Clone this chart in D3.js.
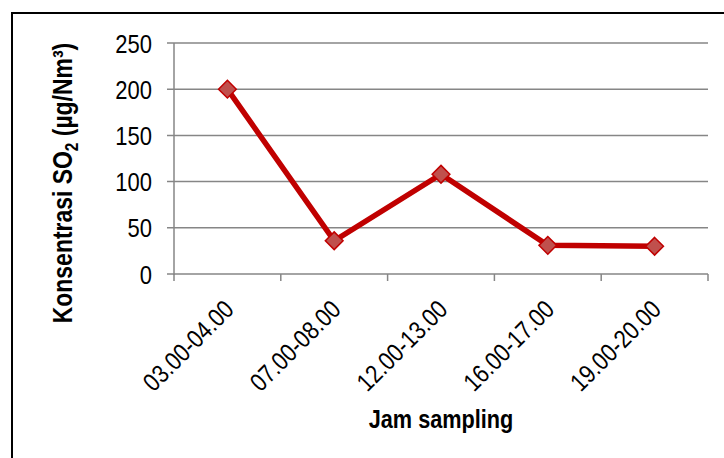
<!DOCTYPE html>
<html><head><meta charset="utf-8">
<script src="https://cdn.jsdelivr.net/npm/d3@7"></script>
<style>body{margin:0;background:#fff}svg{display:block}</style>
</head><body>
<script>
const categories = ["03.00-04.00","07.00-08.00","12.00-13.00","16.00-17.00","19.00-20.00"];
const values = [200, 36, 108, 31, 30];
const yTicks = [0, 50, 100, 150, 200, 250];

const W = 724, H = 458;
const svg = d3.select("body").append("svg").attr("width", W).attr("height", H);
svg.append("rect").attr("x", 12).attr("y", 13).attr("width", 740).attr("height", 480)
  .attr("fill", "#fff").attr("stroke", "#000").attr("stroke-width", 2);

const L = 174, R = 708, T = 43, B = 274;
const x = d3.scaleBand().domain(categories).range([L, R]);
const y = d3.scaleLinear().domain([0, 250]).range([B, T]);
const font = "'Liberation Sans', Arial, sans-serif";

// gridlines
svg.append("g").selectAll("line").data(yTicks).join("line")
  .attr("x1", L - 7).attr("x2", R).attr("y1", d => y(d)).attr("y2", d => y(d))
  .attr("stroke", "#868686").attr("stroke-width", 1.5);

// y axis line
svg.append("line").attr("x1", L).attr("x2", L).attr("y1", T).attr("y2", B + 1)
  .attr("stroke", "#868686").attr("stroke-width", 1.5);
// x axis tick marks
const xt = categories.map(c => x(c)).concat([R]);
svg.append("g").selectAll("line").data(xt).join("line")
  .attr("x1", d => d).attr("x2", d => d).attr("y1", B).attr("y2", B + 7)
  .attr("stroke", "#868686").attr("stroke-width", 1.5);

// y tick labels
svg.append("g").selectAll("text").data(yTicks).join("text")
  .attr("transform", d => `translate(152,${y(d)}) scale(0.83,1)`)
  .attr("dy", "0.36em")
  .attr("text-anchor", "end").attr("font-family", font).attr("font-size", 26.5)
  .text(d => d);

// x tick labels
svg.append("g").selectAll("text").data(categories).join("text")
  .attr("transform", d => `translate(${x(d) + x.bandwidth()/2 + 8},311) rotate(-45) scale(0.85,1)`)
  .attr("text-anchor", "end")
  .attr("font-family", font).attr("font-size", 25.5)
  .text(d => d);

// line
const cx = d => x(d) + x.bandwidth() / 2;
const line = d3.line().x((d, i) => cx(categories[i])).y(d => y(d));
svg.append("path").datum(values).attr("d", line).attr("fill", "none")
  .attr("stroke", "#c00000").attr("stroke-width", 5.5).attr("stroke-linejoin", "miter");

// markers
const sym = d3.symbol().type(d3.symbolDiamond2).size(200);
svg.append("g").selectAll("path").data(values).join("path")
  .attr("transform", (d, i) => `translate(${cx(categories[i])},${y(d)})`)
  .attr("d", sym).attr("fill", "#c0504d").attr("stroke", "#c00000").attr("stroke-width", 1.5);

// axis titles
svg.append("text").attr("transform", `translate(441,428) scale(0.85,1)`).attr("text-anchor", "middle")
  .attr("font-family", font).attr("font-weight", "bold").attr("font-size", 25.5)
  .text("Jam sampling");

const yl = svg.append("text").attr("transform", `translate(72,183) rotate(-90) scale(0.85,1)`)
  .attr("text-anchor", "middle").attr("font-family", font).attr("font-weight", "bold").attr("font-size", 27);
yl.append("tspan").text("Konsentrasi SO");
yl.append("tspan").attr("font-size", 18).attr("dy", 6).text("2");
yl.append("tspan").attr("dy", -6).text(" (µg/Nm³)");
</script>
</body></html>
